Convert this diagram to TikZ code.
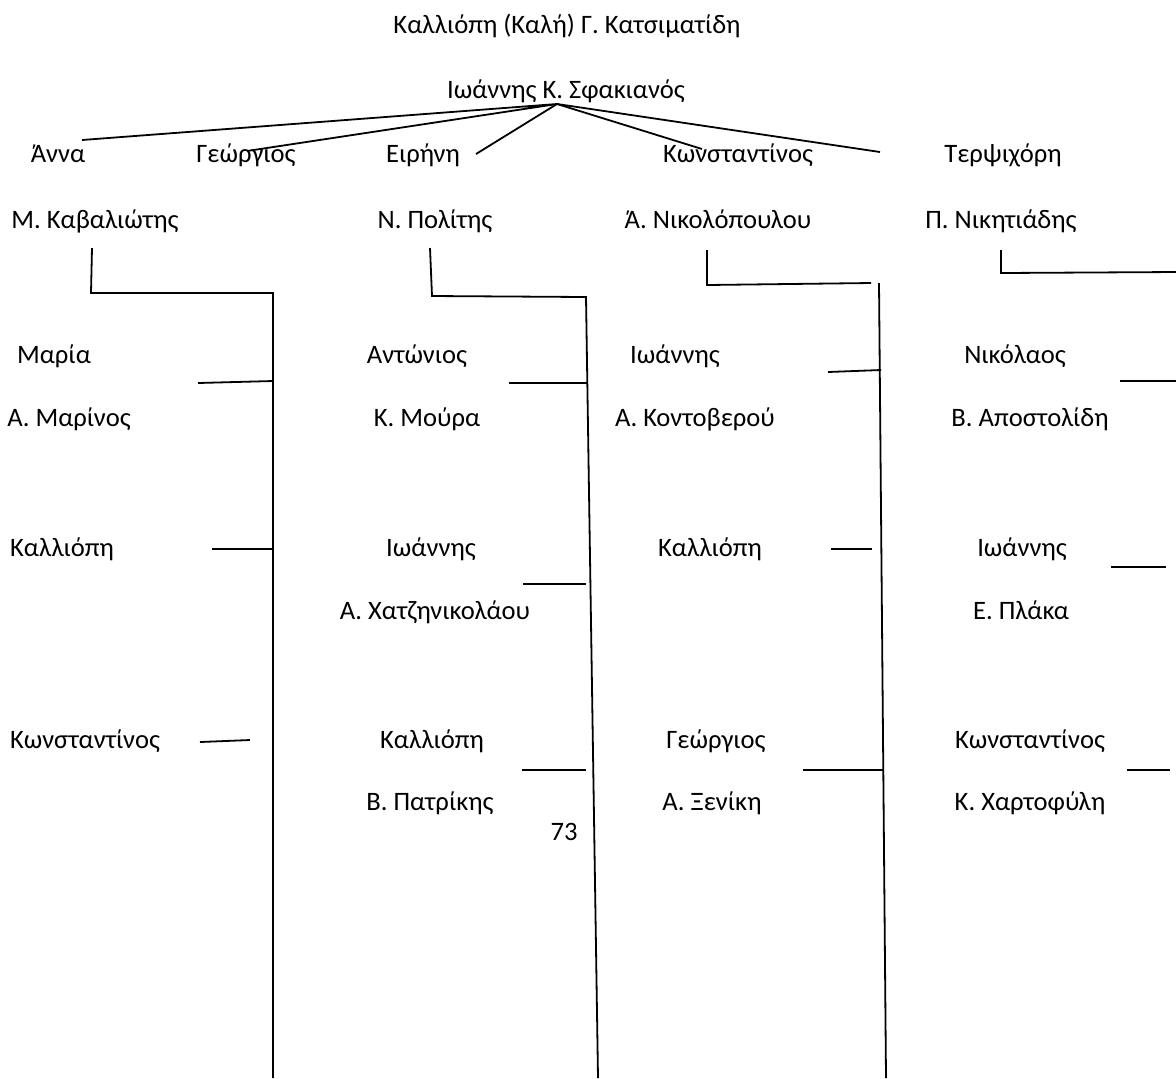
\documentclass[tikz,border=0pt]{standalone}
\usepackage{fontspec}
\setmainfont{Carlito}
\begin{document}
\begin{tikzpicture}[x=0.5pt,y=-0.5pt,
  lbl/.style={anchor=base,inner sep=0pt,font=\fontsize{13.3}{16}\selectfont},
  ln/.style={line width=0.9pt}]
\useasboundingbox (0,0) rectangle (1176,1078);
% texts
\node[lbl] (title) at (567,33) {Καλλιόπη (Καλή) Γ. Κατσιματίδη};
\node[lbl] (ioan) at (566,98) {Ιωάννης Κ. Σφακιανός};
\node[lbl] (anna) at (58,162) {Άννα};
\node[lbl] (geo) at (246,162) {Γεώργιος};
\node[lbl] (eir) at (423,162) {Ειρήνη};
\node[lbl] (kon) at (738,162) {Κωνσταντίνος};
\node[lbl] (terp) at (1003,162) {Τερψιχόρη};
\node[lbl] (kav) at (95,228) {Μ. Καβαλιώτης};
\node[lbl] (pol) at (435,228) {Ν. Πολίτης};
\node[lbl] (nik) at (718,228) {Ά. Νικολόπουλου};
\node[lbl] (nikt) at (1001,228) {Π. Νικητιάδης};
% column 1
\node[lbl] (c1a) at (54,363) {Μαρία};
\node[lbl] (c1b) at (69,426) {Α. Μαρίνος};
\node[lbl] (c1c) at (62,556) {Καλλιόπη};
\node[lbl] (c1d) at (85,748) {Κωνσταντίνος};
% column 2
\node[lbl] (c2a) at (417,363) {Αντώνιος};
\node[lbl] (c2b) at (427,426) {Κ. Μούρα};
\node[lbl] (c2c) at (431,556) {Ιωάννης};
\node[lbl] (c2d) at (435,619) {Α. Χατζηνικολάου};
\node[lbl] (c2e) at (432,748) {Καλλιόπη};
\node[lbl] (c2f) at (430,810) {Β. Πατρίκης};
\node[lbl] (page) at (564,840) {73};
% column 3
\node[lbl] (c3a) at (675,363) {Ιωάννης};
\node[lbl] (c3b) at (695,426) {Α. Κοντοβερού};
\node[lbl] (c3c) at (710,556) {Καλλιόπη};
\node[lbl] (c3d) at (716,748) {Γεώργιος};
\node[lbl] (c3e) at (712,810) {Α. Ξενίκη};
% column 4
\node[lbl] (c4a) at (1015,363) {Νικόλαος};
\node[lbl] (c4b) at (1030,426) {Β. Αποστολίδη};
\node[lbl] (c4c) at (1022,556) {Ιωάννης};
\node[lbl] (c4d) at (1021,619) {Ε. Πλάκα};
\node[lbl] (c4e) at (1030,748) {Κωνσταντίνος};
\node[lbl] (c4f) at (1030,810) {Κ. Χαρτοφύλη};
% fan from apex
\coordinate (apex) at (557,104);
\coordinate (eA) at (82,140);
\coordinate (eG) at (247,151);
\coordinate (eE) at (476,154);
\coordinate (eK) at (702,149);
\coordinate (eT) at (880,152);
\draw[ln] (eA) -- (apex) -- (eG);
\draw[ln] (eE) -- (apex) -- (eK);
\draw[ln] (apex) -- (eT);
% column 1 trunk
\coordinate (k1t) at (92,248);
\coordinate (k1c) at (91,293);
\coordinate (k1r) at (273,293);
\coordinate (k1b) at (273,1078);
\draw[ln] (k1t) -- (k1c) -- (k1r) -- (k1b);
\coordinate (h1a) at (198,383); \coordinate (h1a') at (273,381);
\draw[ln] (h1a) -- (h1a');
\coordinate (h1b) at (212,549); \coordinate (h1b') at (273,549);
\draw[ln] (h1b) -- (h1b');
\coordinate (h1c) at (200,742); \coordinate (h1c') at (250,740);
\draw[ln] (h1c) -- (h1c');
% column 2 trunk
\coordinate (k2t) at (430,248);
\coordinate (k2c) at (432,296);
\coordinate (k2r) at (586,297);
\coordinate (k2b) at (598,1078);
\draw[ln] (k2t) -- (k2c) -- (k2r) -- (k2b);
\coordinate (h2a) at (509,383); \coordinate (h2a') at (587,383);
\draw[ln] (h2a) -- (h2a');
\coordinate (h2b) at (523,584); \coordinate (h2b') at (586,584);
\draw[ln] (h2b) -- (h2b');
\coordinate (h2c) at (522,770); \coordinate (h2c') at (586,770);
\draw[ln] (h2c) -- (h2c');
% column 3 trunk
\coordinate (k3t) at (707,250);
\coordinate (k3c) at (707,285);
\coordinate (k3r) at (871,283);
\draw[ln] (k3t) -- (k3c) -- (k3r);
\coordinate (k3vt) at (879,283);
\coordinate (k3vb) at (886,1078);
\draw[ln] (k3vt) -- (k3vb);
\coordinate (h3a) at (828,372); \coordinate (h3a') at (881,370);
\draw[ln] (h3a) -- (h3a');
\coordinate (h3b) at (831,549); \coordinate (h3b') at (872,549);
\draw[ln] (h3b) -- (h3b');
\coordinate (h3c) at (803,770); \coordinate (h3c') at (883,770);
\draw[ln] (h3c) -- (h3c');
% column 4
\coordinate (k4t) at (1001,250);
\coordinate (k4c) at (1001,273);
\coordinate (k4r) at (1176,272);
\draw[ln] (k4t) -- (k4c) -- (k4r);
\coordinate (h4a) at (1120,381); \coordinate (h4a') at (1176,381);
\draw[ln] (h4a) -- (h4a');
\coordinate (h4b) at (1111,567); \coordinate (h4b') at (1166,567);
\draw[ln] (h4b) -- (h4b');
\coordinate (h4c) at (1127,770); \coordinate (h4c') at (1170,770);
\draw[ln] (h4c) -- (h4c');
\end{tikzpicture}
\end{document}
